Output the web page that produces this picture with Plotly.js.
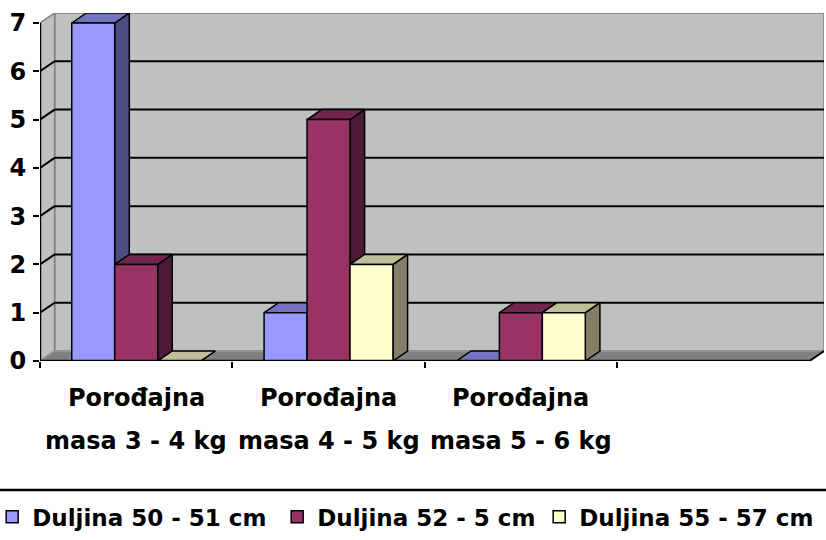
<!DOCTYPE html>
<html><head><meta charset="utf-8">
<script src="https://cdn.plot.ly/plotly-3.0.1.min.js"></script>
<style>html,body{margin:0;padding:0;background:#fff}</style></head>
<body>
<div id="chart" style="width:826px;height:540px"></div>
<script>
// ---- data ----
const categories = ["Porođajna masa 3 - 4 kg", "Porođajna masa 4 - 5 kg", "Porođajna masa 5 - 6 kg", ""];
const seriesNames = ["Duljina 50 - 51 cm", "Duljina 52 - 5 cm", "Duljina 55 - 57 cm"];
const duljina50_51 = [7, 1, 0];
const duljina52_5 = [2, 5, 1];
const duljina55_57 = [0, 2, 1];
const yTickValues = [0, 1, 2, 3, 4, 5, 6, 7];

// ---- styling ----
const series = [duljina50_51, duljina52_5, duljina55_57];
const frontColors = ['#9999FF', '#993366', '#FFFFCC'];
const topColors = ['#7373BF', '#73264D', '#BFBF99'];
const sideColors = ['#4D4D80', '#4D1A33', '#808066'];
const legendWidths = [240, 217, 0];
const FONT = {family: 'DejaVu Sans', size: 24, color: '#000', weight: 'bold'};
const LEGEND_FONT = {family: 'DejaVu Sans', size: 23, color: '#000', weight: 'bold'};

const NCAT = categories.length;
const BARGAP = 0.33;
const W = (1 - BARGAP) / series.length;
const DX = 0.076, DY = 0.207;
const YMAX = yTickValues[yTickValues.length - 1];
const X0 = -0.5, X1 = NCAT - 0.5;
const xRange = [X0, X1 + DX];
const yRange = [0, YMAX + DY];

const traces = [];
series.forEach((vals, k) => {
  const sx = [], sy = [], tx = [], ty = [];
  vals.forEach((v, i) => {
    const xl = i + (k - (series.length - 1) / 2) * W - W / 2, xr = xl + W;
    sx.push(xr, xr, xr + DX, xr + DX, xr, null); sy.push(0, v, v + DY, DY, 0, null);
    tx.push(xl, xr, xr + DX, xl + DX, xl, null); ty.push(v, v, v + DY, v + DY, v, null);
  });
  traces.push({type: 'scatter', x: sx, y: sy, mode: 'lines', fill: 'toself', fillcolor: sideColors[k],
    line: {color: '#000', width: 1.5}, showlegend: false, hoverinfo: 'skip'});
  traces.push({type: 'scatter', x: tx, y: ty, mode: 'lines', fill: 'toself', fillcolor: topColors[k],
    line: {color: '#000', width: 1.5}, showlegend: false, hoverinfo: 'skip'});
});
series.forEach((vals, k) => {
  const t = {type: 'bar', x: vals.map((_, i) => i), y: vals, name: seriesNames[k],
    xaxis: 'x2', yaxis: 'y', marker: {color: frontColors[k], line: {color: '#000', width: 1.5}},
    hoverinfo: 'skip'};
  if (legendWidths[k]) t.legendwidth = legendWidths[k];
  traces.push(t);
});

const shapes = [];
// back wall
shapes.push({type: 'rect', xref: 'x', yref: 'y', x0: X0 + DX, x1: X1 + DX, y0: DY, y1: YMAX + DY,
  fillcolor: '#C0C0C0', line: {color: '#808080', width: 1.5}, layer: 'below'});
// side wall
shapes.push({type: 'path', xref: 'x', yref: 'y', layer: 'below', fillcolor: '#C0C0C0', line: {color: '#808080', width: 1.5},
  path: `M${X0},0 L${X0 + DX},${DY} L${X0 + DX},${YMAX + DY} L${X0},${YMAX} Z`});
// floor
shapes.push({type: 'path', xref: 'x', yref: 'y', layer: 'below', fillcolor: '#808080', line: {color: '#959595', width: 1.5},
  path: `M${X0},0 L${X1},0 L${X1 + DX},${DY} L${X0 + DX},${DY} Z`});
// gridlines
yTickValues.forEach(v => {
  if (v === 0 || v === YMAX) return;
  shapes.push({type: 'line', xref: 'x', yref: 'y', layer: 'below', x0: X0 + DX, x1: X1 + DX, y0: v + DY, y1: v + DY, line: {color: '#000', width: 2}});
  shapes.push({type: 'line', xref: 'x', yref: 'y', layer: 'below', x0: X0, x1: X0 + DX, y0: v, y1: v + DY, line: {color: '#000', width: 2}});
});
// front axes
shapes.push({type: 'line', xref: 'x', yref: 'y', layer: 'above', x0: X0, x1: X1, y0: 0, y1: 0, line: {color: '#000', width: 2.5}});
shapes.push({type: 'line', xref: 'x', yref: 'y', layer: 'above', x0: X1, x1: X1 + DX, y0: 0, y1: DY, line: {color: '#000', width: 2}});
shapes.push({type: 'line', xref: 'x', yref: 'y', layer: 'above', x0: X0, x1: X0, y0: 0, y1: YMAX, line: {color: '#000', width: 2.5}});
// legend top border
shapes.push({type: 'line', xref: 'paper', yref: 'paper', x0: -0.06, x1: 1.01, y0: -0.3707, y1: -0.3707, line: {color: '#000', width: 2.5}});

const annotations = [];
categories.forEach((c, i) => {
  if (!c) return;
  const sp = c.indexOf(' ');
  annotations.push({xref: 'x', yref: 'paper', x: i, y: -0.106, yanchor: 'middle', xanchor: 'center', showarrow: false, text: c.slice(0, sp), font: FONT});
  annotations.push({xref: 'x', yref: 'paper', x: i, y: -0.23, yanchor: 'middle', xanchor: 'center', showarrow: false, text: c.slice(sp + 1), font: FONT});
});

const boundaries = categories.map((_, i) => i - 0.5);

const layout = {
  width: 826, height: 540,
  margin: {l: 40, r: 2, t: 13, b: 179, autoexpand: false},
  paper_bgcolor: '#fff', plot_bgcolor: '#fff',
  barmode: 'group', bargap: BARGAP, bargroupgap: 0,
  xaxis: {range: xRange, showgrid: false, zeroline: false, showline: false, tickvals: boundaries,
    ticks: 'outside', ticklen: 6, tickwidth: 2, tickcolor: '#000', showticklabels: false, fixedrange: true},
  xaxis2: {overlaying: 'x', anchor: 'y', range: xRange, visible: false, fixedrange: true},
  yaxis: {range: yRange, tickvals: yTickValues, ticks: 'outside', ticklen: 6, tickwidth: 2, tickcolor: '#000',
    showgrid: false, zeroline: false, showline: false, tickfont: FONT, ticklabelstandoff: 2, fixedrange: true},
  showlegend: true,
  legend: {orientation: 'h', x: -0.061, xanchor: 'left', y: -0.448, yanchor: 'middle', font: LEGEND_FONT,
    bgcolor: 'rgba(0,0,0,0)', borderwidth: 0},
  shapes: shapes,
  annotations: annotations
};

Plotly.newPlot('chart', traces, layout, {displayModeBar: false, staticPlot: true});
</script>
</body></html>
